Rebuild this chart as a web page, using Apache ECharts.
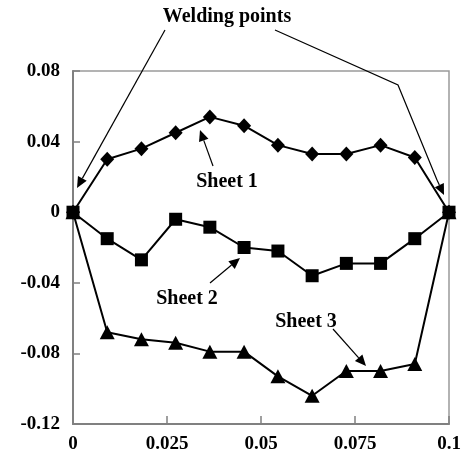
<!DOCTYPE html>
<html><head><meta charset="utf-8">
<script src="https://cdn.jsdelivr.net/npm/echarts@6/dist/echarts.min.js"></script>
<style>html,body{margin:0;padding:0;background:#fff}#c{width:464px;height:457px}</style>
</head><body><div id="c"></div>
<script>
const xValues = [0, 0.0091, 0.0182, 0.0273, 0.0364, 0.0455, 0.0545, 0.0636, 0.0727, 0.0818, 0.0909, 0.1];
const sheet1 = [0, 0.030, 0.036, 0.045, 0.054, 0.049, 0.038, 0.033, 0.033, 0.038, 0.031, 0];
const sheet2 = [0, -0.015, -0.027, -0.004, -0.0085, -0.020, -0.022, -0.036, -0.029, -0.029, -0.015, 0];
const sheet3 = [0, -0.068, -0.072, -0.074, -0.079, -0.079, -0.093, -0.104, -0.090, -0.090, -0.086, 0];
const xTicks = ['0', '0.025', '0.05', '0.075', '0.1'];
const yTicks = ['-0.12', '-0.08', '-0.04', '0', '0.04', '0.08'];

const FONT = '"Liberation Serif", "DejaVu Serif", serif';
const chart = echarts.init(document.getElementById('c'), null, {renderer: 'canvas'});

function pairs(ys) { return xValues.map((x, i) => [x, ys[i]]); }

function arrow(x1, y1, x2, y2, len, half) {
  const dx = x2 - x1, dy = y2 - y1, d = Math.hypot(dx, dy);
  const ux = dx / d, uy = dy / d;
  const bx = x2 - ux * len, by = y2 - uy * len;
  return [
    {type: 'line', shape: {x1: x1, y1: y1, x2: bx, y2: by}, style: {stroke: '#000', lineWidth: 1.2}},
    {type: 'polygon', shape: {points: [[x2, y2], [bx - uy * half, by + ux * half], [bx + uy * half, by - ux * half]]}, style: {fill: '#000'}}
  ];
}

function label(txt, x, y, size) {
  return {type: 'text', x: x, y: y, style: {text: txt, font: 'bold ' + size + 'px ' + FONT, fill: '#000', textAlign: 'center', textVerticalAlign: 'middle'}};
}

const graphics = [].concat(
  [label('Welding points', 227, 17, 20)],
  arrow(165, 30, 77, 188, 11, 5),
  [{type: 'polyline', shape: {points: [[275, 30], [398, 85], [437, 180]]}, style: {stroke: '#000', lineWidth: 1.2, fill: null}}],
  arrow(437, 180, 444, 195, 11, 5),
  [label('Sheet 1', 227, 182, 20)],
  arrow(213, 166, 200, 130, 11, 5),
  [label('Sheet 2', 187, 299, 20)],
  arrow(210, 283, 240, 258, 11, 5),
  [label('Sheet 3', 306, 322, 20)],
  arrow(333, 329, 366, 366, 11, 5)
);

const lineStyle = {color: '#000', width: 2};
chart.setOption({
  animation: false,
  backgroundColor: '#fff',
  grid: {left: 73, right: 15, top: 71, bottom: 33, show: true, borderColor: '#9a9a9a', borderWidth: 1.5},
  xAxis: {
    type: 'value', min: 0, max: 0.1, interval: 0.025,
    axisLine: {show: true, onZero: false, lineStyle: {color: '#808080', width: 2}},
    axisTick: {show: true, inside: true, length: 8, lineStyle: {color: '#808080', width: 1.5}},
    splitLine: {show: false},
    axisLabel: {color: '#000', fontFamily: FONT, fontWeight: 'bold', fontSize: 19, margin: 11,
      formatter: (v) => xTicks[Math.round(v / 0.025)]}
  },
  yAxis: {
    type: 'value', min: -0.12, max: 0.08, interval: 0.04,
    axisLine: {show: true, onZero: false, lineStyle: {color: '#808080', width: 2}},
    axisTick: {show: true, inside: true, length: 7, lineStyle: {color: '#808080', width: 1.5}},
    splitLine: {show: false},
    axisLabel: {color: '#000', fontFamily: FONT, fontWeight: 'bold', fontSize: 19, margin: 13,
      formatter: (v) => yTicks[Math.round((v + 0.12) / 0.04)]}
  },
  series: [
    {name: 'Sheet 1', type: 'line', data: pairs(sheet1), symbol: 'diamond', symbolSize: [14, 15],
      showAllSymbol: true, lineStyle: lineStyle, itemStyle: {color: '#000'}, clip: false, z: 2},
    {name: 'Sheet 3', type: 'line', data: pairs(sheet3), symbol: 'triangle', symbolSize: [15, 14],
      showAllSymbol: true, lineStyle: lineStyle, itemStyle: {color: '#000'}, clip: false, z: 3},
    {name: 'Sheet 2', type: 'line', data: pairs(sheet2), symbol: 'rect', symbolSize: 13,
      showAllSymbol: true, lineStyle: lineStyle, itemStyle: {color: '#000'}, clip: false, z: 4}
  ],
  graphic: graphics
});
</script>
</body></html>
